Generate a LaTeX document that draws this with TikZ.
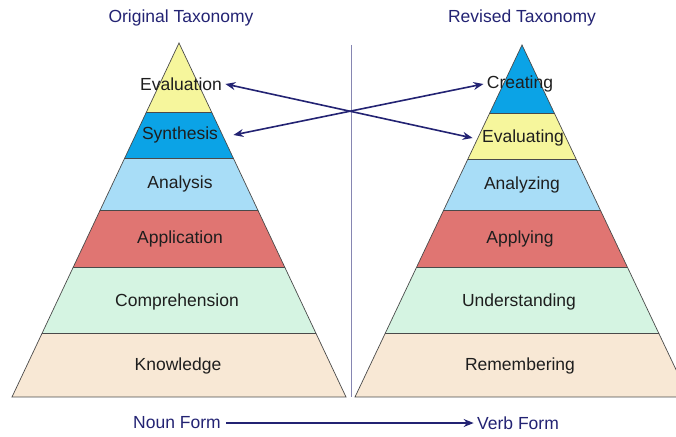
\documentclass[tikz,border=0pt]{standalone}
\usepackage{fontspec}
\setmainfont{Liberation Sans}
\usetikzlibrary{arrows.meta}

\definecolor{navy}{HTML}{232373}
\definecolor{edgegray}{HTML}{4A4A4A}
\definecolor{lvltext}{HTML}{1E1E1E}
\definecolor{evalyel}{HTML}{F6F69C}
\definecolor{synblue}{HTML}{0BA3E6}
\definecolor{anablue}{HTML}{A8DDF7}
\definecolor{appred}{HTML}{E07572}
\definecolor{commint}{HTML}{D5F4E2}
\definecolor{knowbeige}{HTML}{F8E8D5}

\tikzset{
  lvl/.style={font=\fontsize{17.5}{20}\selectfont, text=lvltext},
  ttl/.style={font=\fontsize{17.5}{20}\selectfont, text=navy},
  band/.style={draw=edgegray, line width=0.7pt},
  link/.style={navy, line width=1.6pt, {Stealth[length=10pt,width=8pt]}-{Stealth[length=10pt,width=8pt]}},
  flow/.style={navy, line width=1.5pt, -{Stealth[length=10pt,width=8pt]}}
}

\begin{document}
\begin{tikzpicture}[x=1pt,y=-1pt]
  \useasboundingbox (0,0) rectangle (676,436);

  % left pyramid
  \begin{scope}
    \clip (179,43) -- (12,397) -- (346,397) -- cycle;
    \foreach \ya/\yb/\col in {43/112/evalyel, 112/158/synblue, 158/210/anablue,
        210/267/appred, 267/333/commint, 333/397/knowbeige}
      \fill[\col] (0,\ya) rectangle (350,\yb);
    \foreach \y in {112,158,210,267,333}
      \draw[band] (0,\y) -- (350,\y);
  \end{scope}
  \draw[band] (179,43) -- (12,397) -- (346,397) -- cycle;

  % right pyramid
  \begin{scope}
    \clip (522,45) -- (355,397) -- (689,397) -- cycle;
    \foreach \ya/\yb/\col in {45/113/synblue, 113/159/evalyel, 159/210/anablue,
        210/267/appred, 267/333/commint, 333/397/knowbeige}
      \fill[\col] (352,\ya) rectangle (700,\yb);
    \foreach \y in {113,159,210,267,333}
      \draw[band] (352,\y) -- (700,\y);
  \end{scope}
  \draw[band] (522,45) -- (355,397) -- (689,397) -- cycle;

  % divider
  \draw[color=navy!55, line width=0.8pt] (351,45) -- (351,397);

  \node[ttl] (orig) at (181,18) {Original Taxonomy};
  \node[ttl] (rev) at (522,18) {Revised Taxonomy};

  \node[lvl] (evaluation) at (181,84) {Evaluation};
  \node[lvl] (synthesis) at (180,135) {Synthesis};
  \node[lvl] (analysis) at (180,184) {Analysis};
  \node[lvl] (application) at (180,239) {Application};
  \node[lvl] (comprehension) at (177,302) {Comprehension};
  \node[lvl] (knowledge) at (178,366) {Knowledge};

  \node[lvl] (creating) at (520,84) {Creating};
  \node[lvl] (evaluating) at (523,138) {Evaluating};
  \node[lvl] (analyzing) at (522,185) {Analyzing};
  \node[lvl] (applying) at (520,239) {Applying};
  \node[lvl] (understanding) at (519,302) {Understanding};
  \node[lvl] (remembering) at (520,366) {Remembering};

  \node[ttl] (noun) at (177,423) {Noun Form};
  \node[ttl] (verb) at (518,423) {Verb Form};

  \draw[link] (evaluation.east) -- ([xshift=-6pt]evaluating.west);
  \draw[link] ([xshift=12pt]synthesis.east) -- (creating.west);
  \draw[flow] ([xshift=2pt]noun.east) -- (verb.west);
\end{tikzpicture}
\end{document}
